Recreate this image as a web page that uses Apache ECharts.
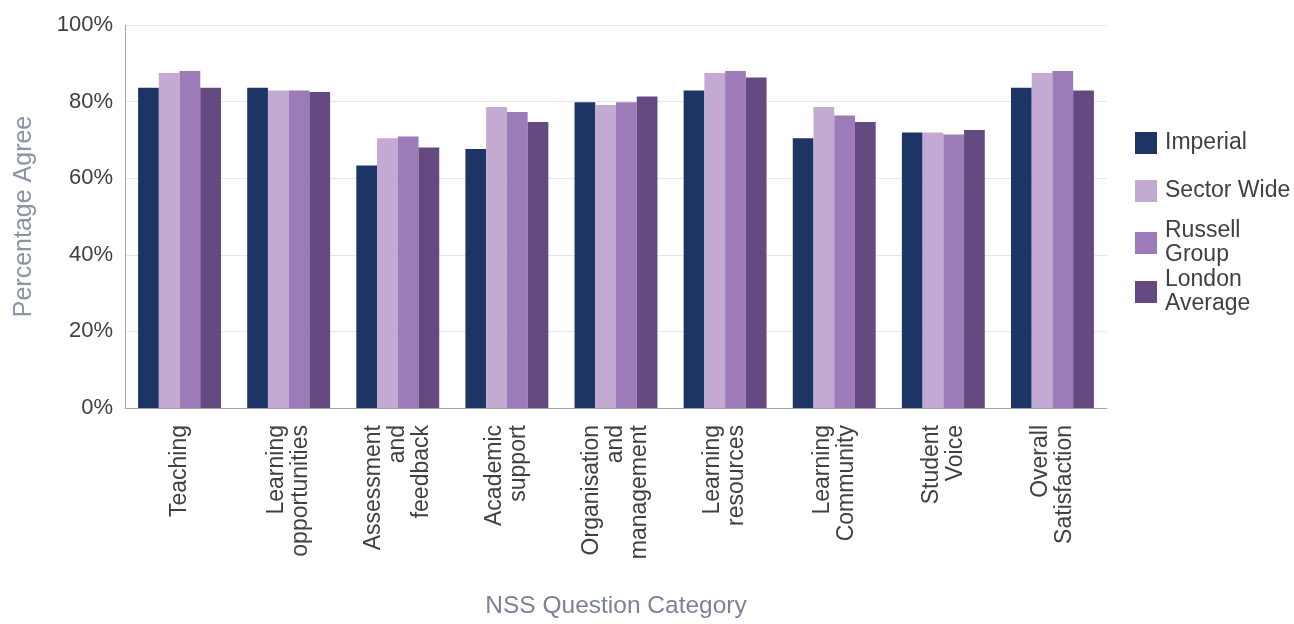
<!DOCTYPE html>
<html>
<head>
<meta charset="utf-8">
<script src="https://cdn.jsdelivr.net/npm/echarts@6/dist/echarts.min.js"></script>
<style>
html,body{margin:0;padding:0;background:#fff;}
#chart{width:1294px;height:624px;}
</style>
</head>
<body>
<div id="chart"></div>
<script>
const categories = ['Teaching','Learning\nopportunities','Assessment\nand\nfeedback','Academic\nsupport','Organisation\nand\nmanagement','Learning\nresources','Learning\nCommunity','Student\nVoice','Overall\nSatisfaction'];
const imperial    = [83.6, 83.6, 63.3, 67.6, 79.8, 82.9, 70.4, 71.9, 83.6];
const sectorWide  = [87.5, 82.9, 70.4, 78.6, 79.1, 87.5, 78.6, 71.9, 87.5];
const russell     = [88.0, 82.9, 70.9, 77.3, 79.8, 88.0, 76.4, 71.4, 88.0];
const london      = [83.6, 82.5, 68.0, 74.7, 81.3, 86.3, 74.7, 72.6, 82.9];
const yTicks = ['0%','20%','40%','60%','80%','100%'];

const seriesNames = ['Imperial','Sector Wide','Russell\nGroup','London\nAverage'];
const seriesData = [imperial, sectorWide, russell, london];
const colors = ['#1d3565','#c3aad3','#9d7bb9','#654a82'];
const legendTops = [131, 179, 219, 268];

const chart = echarts.init(document.getElementById('chart'));
const font = 'Liberation Sans, Arial, sans-serif';

chart.setOption({
  animation: false,
  color: colors,
  grid: { left: 125, right: 187, top: 25, bottom: 215, containLabel: false },
  legend: seriesNames.map((n, i) => ({
    data: [n],
    orient: 'vertical',
    left: 1135,
    top: legendTops[i],
    padding: 0,
    itemWidth: 22,
    itemHeight: 22,
    itemGap: 8,
    icon: 'rect',
    selectedMode: false,
    textStyle: { fontFamily: font, fontSize: 23, color: '#404040', lineHeight: 24, padding: [0,0,0,3] }
  })),
  xAxis: {
    type: 'category',
    data: categories,
    name: 'NSS Question Category',
    nameLocation: 'middle',
    nameGap: 186,
    nameTextStyle: { fontFamily: font, fontSize: 24.5, color: '#7b8295' },
    axisLine: { show: true, lineStyle: { color: '#a6a6a6', width: 1 } },
    axisTick: { show: false },
    axisLabel: {
      rotate: 90, interval: 0, margin: 17,
      fontFamily: font, fontSize: 23, color: '#404040', lineHeight: 24
    }
  },
  yAxis: {
    type: 'value',
    min: 0, max: 100, interval: 20,
    name: 'Percentage Agree',
    nameLocation: 'middle',
    nameRotate: 90,
    nameGap: 88,
    nameTextStyle: { fontFamily: font, fontSize: 25, color: '#8a93a8' },
    axisLine: { show: true, lineStyle: { color: '#a6a6a6', width: 1 } },
    axisTick: { show: false },
    axisLabel: {
      margin: 12, fontFamily: font, fontSize: 22, color: '#404040',
      formatter: (v) => yTicks[Math.round(v / 20)]
    },
    splitLine: { show: true, lineStyle: { color: '#e6e6e6', width: 1 } }
  },
  series: seriesNames.map((n, i) => ({
    name: n,
    type: 'bar',
    data: seriesData[i],
    barGap: '0%',
    barCategoryGap: '24%',
    itemStyle: { color: colors[i] }
  }))
});
</script>
</body>
</html>
